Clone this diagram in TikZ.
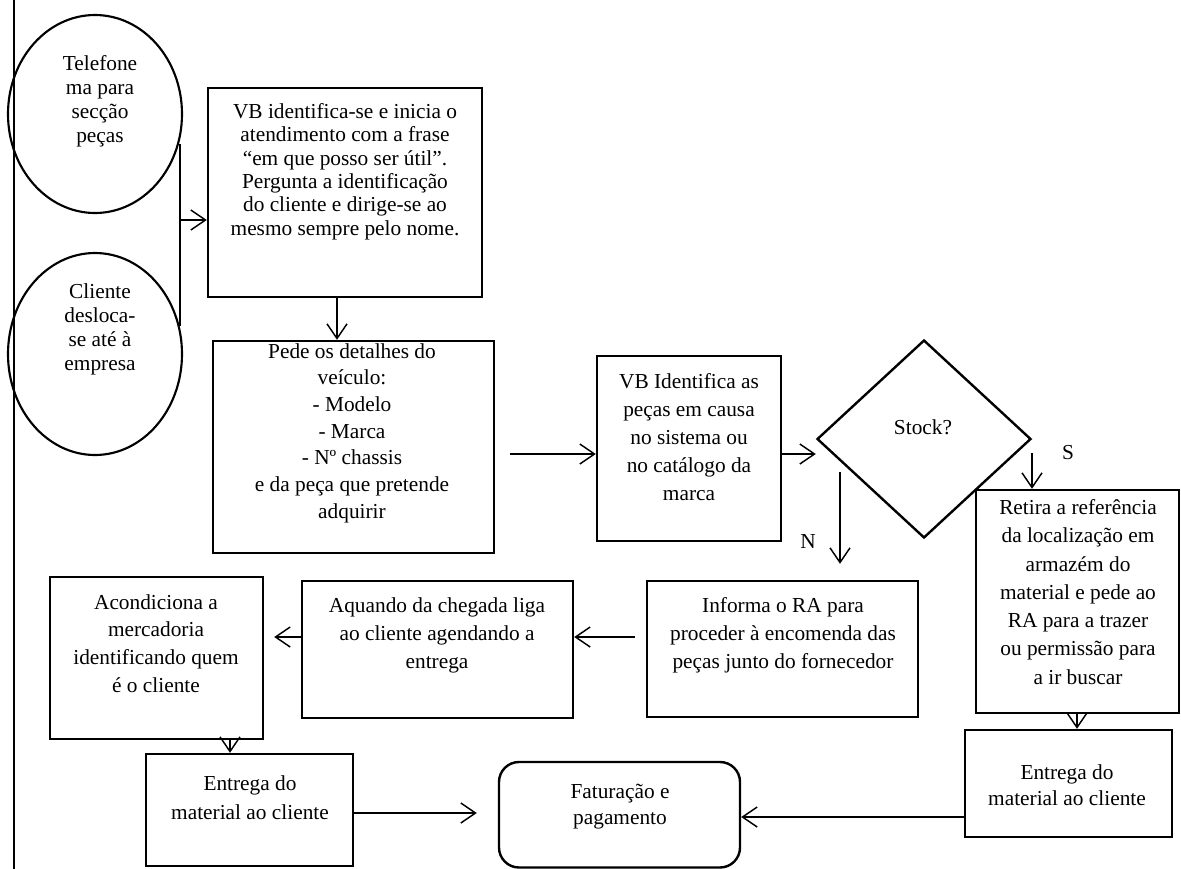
\documentclass[tikz,border=0pt]{standalone}
\usepackage{fontspec}
\setmainfont{Liberation Serif}
\usetikzlibrary{shapes.geometric,arrows.meta,calc}
\begin{document}
\begin{tikzpicture}[x=0.75pt,y=-0.75pt,
  box/.style={draw,line width=1.8pt,rectangle,inner sep=0},
  sz/.style 2 args={minimum width={#1*0.75pt},minimum height={#2*0.75pt}},
  oval/.style={draw,line width=1.6pt,ellipse,inner sep=0},
  txt/.style={align=center,inner sep=0,font=\fontsize{16}{#1}\selectfont},
  txt/.default=20pt,
  arr/.style={line width=1.1pt,-{Straight Barb[length=11pt,width=15pt,line width=1.1pt]}},
  lbl/.style={inner sep=0,font=\fontsize{16}{19}\selectfont}
]
\useasboundingbox (0,0) rectangle (1181,868);

% margin rule on the left
\coordinate (mTop) at (14,-2);
\coordinate (mBot) at (14,870);
\draw[line width=1.6pt] (mTop) -- (mBot);

% two ways the customer gets in touch
\node[oval,sz={174}{198}] (tel) at (95,114) {};
\node[txt=18pt] (telT) at (100,101) {Telefone\\ma para\\secção\\peças};
\node[oval,sz={174}{202}] (cli) at (95,354) {};
\node[txt=18pt] (cliT) at (100,329) {Cliente\\desloca-\\se até à\\empresa};

% bracket joining both entries
\coordinate (brkT) at (180,144);
\coordinate (brkB) at (180,326);
\coordinate (brk) at (180,220);
\draw[line width=1.6pt] (brkT) -- (brkB);

% first reception
\node[box,sz={274}{209}] (b1) at (345,192.5) {};
\node[txt=17.5pt] (b1T) at (345,171.7) {VB identifica-se e inicia o\\atendimento com a frase\\“em que posso ser útil”.\\Pergunta a identificação\\do cliente e dirige-se ao\\mesmo sempre pelo nome.};
\draw[arr] (brk) -- (brk -| b1.west);

% vehicle details
\node[box,sz={281}{212}] (b2) at (353.5,447) {};
\node[txt=20pt] (b2T) at (352,433) {Pede os detalhes do\\veículo:\\- Modelo\\- Marca\\- Nº chassis\\e da peça que pretende\\adquirir};
\coordinate (c12) at (337,320);
\draw[arr] (c12 |- b1.south) -- (c12 |- b2.north);

% part identification
\node[box,sz={184}{185}] (b3) at (689,448.5) {};
\node[txt=21pt] (b3T) at (689,437.5) {VB Identifica as\\peças em causa\\no sistema ou\\no catálogo da\\marca};
\coordinate (c23) at (510,454);
\draw[arr] (c23) -- (c23 -| b3.west);

% stock decision
\node[draw,line width=1.8pt,diamond,inner sep=0,sz={214}{198}] (dia) at (924,439) {};
\node[lbl] (diaT) at (923,427) {Stock?};
\draw[arr] (c23 -| b3.east) -- (c23 -| dia.west);

% branch S: part in stock
\node[box,sz={203}{223}] (ret) at (1077.5,601.5) {};
\node[txt=21.2pt] (retT) at (1078,592) {Retira a referência\\da localização em\\armazém do\\material e pede ao\\RA para a trazer\\ou permissão para\\a ir buscar};
\coordinate (sA) at (1032,453);
\draw[arr] (sA) -- (sA |- ret.north);
\node[lbl] (sL) at (1068,453) {S};

\node[box,sz={207}{107}] (entR) at (1068.5,783.5) {};
\node[txt=19.5pt] (entRT) at (1067,785) {Entrega do\\material ao cliente};
\coordinate (c5) at (1077,720);
\draw[arr] (c5 |- ret.south) -- (c5 |- entR.north);

% branch N: part to be ordered
\node[box,sz={271}{136}] (inf) at (782.5,649) {};
\node[txt=21pt] (infT) at (783,635) {Informa o RA para\\proceder à encomenda das\\peças junto do fornecedor};
\coordinate (nA) at (840,472);
\draw[arr,shorten >=12pt] (nA) -- (nA |- inf.north);
\node[lbl] (nL) at (808,542) {N};

\node[box,sz={271}{137}] (aqd) at (437.5,649.5) {};
\node[txt=21pt] (aqdT) at (437,635) {Aquando da chegada liga\\ao cliente agendando a\\entrega};
\coordinate (c10) at (610,637);
\draw[arr,shorten <=8.25pt] (c10 -| inf.west) -- (c10 -| aqd.east);

\node[box,sz={213}{162}] (acd) at (156.5,658) {};
\node[txt=20.8pt] (acdT) at (156,643.5) {Acondiciona a\\mercadoria\\identificando quem\\é o cliente};
\draw[arr,shorten >=7.5pt] (c10 -| aqd.west) -- (c10 -| acd.east);

\node[box,sz={207}{112}] (entL) at (249.5,810) {};
\node[txt=21.5pt] (entLT) at (250,797.5) {Entrega do\\material ao cliente};
\coordinate (c8) at (230,745);
\draw[arr] (c8 |- acd.south) -- (c8 |- entL.north);

% invoicing
\node[box,rounded corners=15pt,sz={241}{105.5}] (fat) at (619.5,814.75) {};
\node[txt=20pt] (fatT) at (620,806.5) {Faturação e\\pagamento};
\coordinate (c6) at (900,817);
\draw[arr] (c6 -| entR.west) -- (c6 -| fat.east);
\coordinate (c7) at (400,813);
\draw[arr,shorten >=15.75pt] (c7 -| entL.east) -- (c7 -| fat.west);
\end{tikzpicture}
\end{document}
